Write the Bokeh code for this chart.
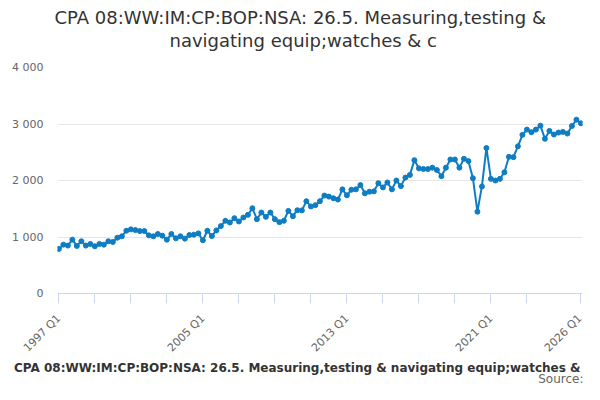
import math
from bokeh.plotting import figure
from bokeh.models import (Range1d, FixedTicker, Title, Legend, LegendItem, Label)
from bokeh.embed import file_html
from bokeh.resources import INLINE

# ---- data ----
years = list(range(1997, 2027))
quarters = [f"{y} Q{q}" for y in years for q in (1, 2, 3, 4)][:117]  # 1997 Q1 .. 2026 Q1

values = [789, 865, 848, 953, 842, 924, 848, 877, 836, 877,
          865, 924, 912, 988, 1012, 1111, 1135, 1123, 1105, 1105,
          1029, 1012, 1053, 1023, 953, 1053, 977, 1012, 971, 1035,
          1041, 1064, 942, 1111, 1017, 1117, 1193, 1287, 1257, 1333,
          1275, 1345, 1392, 1509, 1316, 1433, 1357, 1433, 1316, 1263,
          1287, 1462, 1368, 1474, 1471, 1634, 1541, 1564, 1634, 1733,
          1715, 1686, 1663, 1843, 1738, 1837, 1843, 1919, 1773, 1802,
          1808, 1953, 1878, 1965, 1843, 2000, 1901, 2052, 2099, 2360,
          2215, 2203, 2203, 2227, 2186, 2076, 2227, 2372, 2372, 2227,
          2384, 2343, 2041, 1448, 1895, 2576, 2029, 2000, 2029, 2145,
          2419, 2413, 2605, 2808, 2901, 2855, 2901, 2971, 2738, 2878,
          2814, 2849, 2860, 2831, 2965, 3076, 3012]

labelled_quarters = ["1997 Q1", "2005 Q1", "2013 Q1", "2021 Q1", "2026 Q1"]
minor_quarters = ["1999 Q1", "2001 Q1", "2003 Q1", "2007 Q1", "2009 Q1", "2011 Q1",
                  "2015 Q1", "2017 Q1", "2019 Q1", "2023 Q1"]
y_ticks = [0, 1000, 2000, 3000, 4000]
y_tick_labels = ["0", "1 000", "2 000", "3 000", "4 000"]

series_name = "CPA 08:WW:IM:CP:BOP:NSA: 26.5. Measuring,testing & navigating equip;watches & c"
title_line1 = "CPA 08:WW:IM:CP:BOP:NSA: 26.5. Measuring,testing &"
title_line2 = "navigating equip;watches & c"
source_text = "Source:"

FONT = "DejaVu Sans"
BLUE = "#0f7dc2"

xs = list(range(len(values)))

p = figure(width=584, height=362, output_backend="svg", toolbar_location=None,
           x_range=Range1d(-0.3, len(values) - 1 + 0.35),
           y_range=Range1d(0, 4000),
           min_border_left=57, min_border_right=2,
           min_border_top=67, min_border_bottom=66)
p.title = None
p.outline_line_color = None
p.background_fill_color = "white"

# titles (first added sits closest to the frame)
spacer = Title(text=" ", text_font=FONT, text_font_size="13px", standoff=0)
t2 = Title(text=title_line2, align="left", offset=112, text_font=FONT,
           text_font_size="18px", text_font_style="normal", text_color="#333333",
           standoff=0)
t1 = Title(text=title_line1, align="left", offset=-3, text_font=FONT,
           text_font_size="18px", text_font_style="normal", text_color="#333333",
           standoff=0)
p.add_layout(spacer, "above")
p.add_layout(t2, "above")
p.add_layout(t1, "above")

line = p.line(xs, values, line_color=BLUE, line_width=2)
dots = p.scatter(xs, values, size=5, fill_color=BLUE, line_color=BLUE)

# x axis
idx = {q: i for i, q in enumerate(quarters)}
xa = p.xaxis[0]
xa.ticker = FixedTicker(ticks=[idx[q] for q in labelled_quarters],
                        minor_ticks=[idx[q] for q in minor_quarters])
xa.major_label_overrides = {idx[q]: q for q in labelled_quarters}
xa.major_label_orientation = math.pi / 4
xa.axis_line_color = "#ccd6eb"
xa.major_tick_line_color = "#ccd6eb"
xa.minor_tick_line_color = "#ccd6eb"
xa.major_tick_out = 10
xa.major_tick_in = 0
xa.minor_tick_out = 10
xa.minor_tick_in = 0
xa.major_label_text_font = FONT
xa.major_label_text_font_size = "11px"
xa.major_label_text_color = "#666666"
xa.major_label_standoff = 13
p.xgrid.grid_line_color = None

# y axis
ya = p.yaxis[0]
ya.ticker = FixedTicker(ticks=y_ticks)
ya.major_label_overrides = {v: s for v, s in zip(y_ticks, y_tick_labels)}
ya.axis_line_color = None
ya.major_tick_line_color = None
ya.minor_tick_line_color = None
ya.major_tick_out = 0
ya.major_tick_in = 0
ya.minor_tick_out = 0
ya.minor_tick_in = 0
ya.major_label_text_font = FONT
ya.major_label_text_font_size = "11px"
ya.major_label_text_color = "#666666"
ya.major_label_standoff = 14
p.ygrid.grid_line_color = "#e6e6e6"
p.ygrid.ticker = FixedTicker(ticks=y_ticks)

# ---- legend + source strip below the chart (separate root, full width) ----
q = figure(width=584, height=22, output_backend="svg", toolbar_location=None,
           x_axis_type=None, y_axis_type=None,
           x_range=Range1d(0, 1), y_range=Range1d(0, 1),
           min_border_left=0, min_border_right=0, min_border_top=0, min_border_bottom=0)
q.title = None
q.grid.visible = False
q.outline_line_color = None
key_line = q.line(x=[], y=[], line_color=BLUE, line_width=2)
key_dot = q.scatter(x=[], y=[], size=5, fill_color=BLUE, line_color=BLUE)
legend = Legend(items=[LegendItem(label=series_name, renderers=[key_line, key_dot])],
                location=(-7, 9), orientation="horizontal",
                label_text_font=FONT, label_text_font_size="12px",
                label_text_font_style="bold", label_text_color="#333333",
                glyph_width=16, glyph_height=14, label_height=14,
                label_standoff=5, padding=0, margin=0, spacing=0,
                background_fill_alpha=0, border_line_alpha=0)
q.add_layout(legend)
src = Label(x=583, y=6, x_units="screen", y_units="screen", text=source_text,
            text_align="right", text_baseline="middle", text_font=FONT,
            text_font_size="12px", text_color="#666666")
q.add_layout(src)

open("out.html", "w").write(file_html([p, q], INLINE))
